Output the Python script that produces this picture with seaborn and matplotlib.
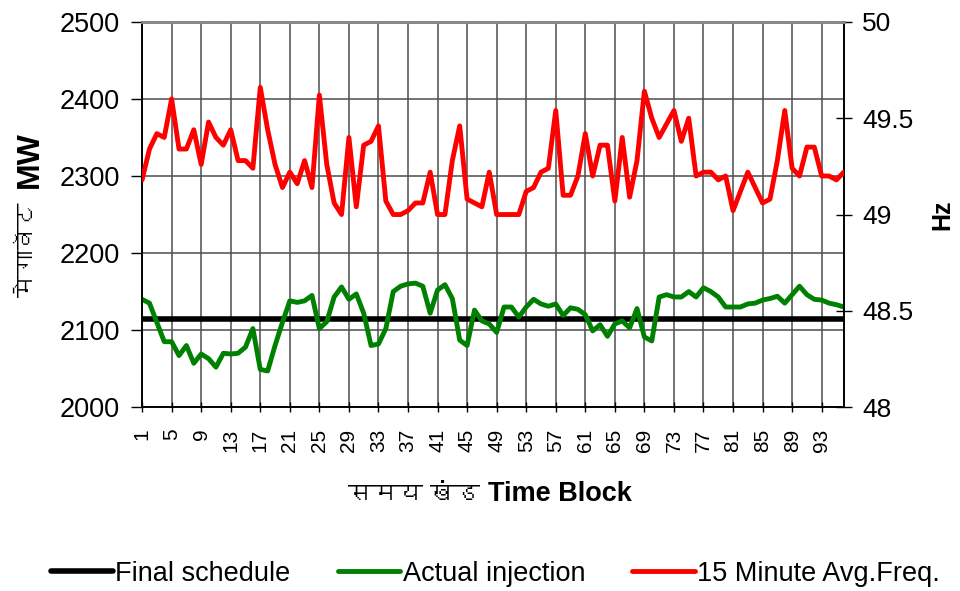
import matplotlib
matplotlib.use('Agg')
import matplotlib.pyplot as plt
from matplotlib import font_manager
from matplotlib.ft2font import FT2Font
import seaborn as sns
import pandas as pd

# time blocks (15 min) of the day
blocks = list(range(1, 97))

final_schedule = [2115] * 96

actual_injection = [
    2140, 2135, 2110, 2085, 2085, 2067, 2080, 2057, 2069, 2063,
    2052, 2070, 2069, 2070, 2078, 2102, 2049, 2047, 2080, 2110,
    2138, 2136, 2138, 2145, 2102, 2111, 2143, 2156, 2140, 2147,
    2122, 2080, 2082, 2102, 2150, 2157, 2160, 2161, 2157, 2122,
    2152, 2159, 2141, 2087, 2080, 2126, 2112, 2108, 2097, 2130,
    2130, 2117, 2130, 2140, 2134, 2131, 2134, 2119, 2129, 2127,
    2120, 2099, 2107, 2092, 2108, 2112, 2103, 2128, 2091, 2086,
    2143, 2146, 2143, 2143, 2150, 2143, 2155, 2150, 2143, 2130,
    2130, 2130, 2134, 2135, 2139, 2141, 2144, 2135, 2146, 2157,
    2146, 2140, 2139, 2135, 2133, 2130,
]

avg_freq = [
    49.18, 49.34, 49.42, 49.40, 49.60, 49.34, 49.34, 49.44, 49.26, 49.48,
    49.40, 49.36, 49.44, 49.28, 49.28, 49.24, 49.66, 49.44, 49.26, 49.14,
    49.22, 49.16, 49.28, 49.14, 49.62, 49.26, 49.06, 49.00, 49.40, 49.04,
    49.36, 49.38, 49.46, 49.07, 49.00, 49.00, 49.02, 49.06, 49.06, 49.22,
    49.00, 49.00, 49.28, 49.46, 49.08, 49.06, 49.04, 49.22, 49.00, 49.00,
    49.00, 49.00, 49.12, 49.14, 49.22, 49.24, 49.54, 49.10, 49.10, 49.20,
    49.42, 49.20, 49.36, 49.36, 49.07, 49.40, 49.09, 49.28, 49.64, 49.50,
    49.40, 49.47, 49.54, 49.38, 49.50, 49.20, 49.22, 49.22, 49.18, 49.20,
    49.02, 49.12, 49.22, 49.14, 49.06, 49.08, 49.28, 49.54, 49.24, 49.20,
    49.35, 49.35, 49.20, 49.20, 49.18, 49.22,
]

xtick_blocks = list(range(1, 94, 4))
mw_ticks = [2000, 2100, 2200, 2300, 2400, 2500]
hz_ticks = [48, 48.5, 49, 49.5, 50]
hz_ticklabels = ['48', '48.5', '49', '49.5', '50']

sns.set_theme(style='white')


def find_font(ch):
    # look for any installed font that has this glyph
    for f in font_manager.fontManager.ttflist:
        try:
            if ord(ch) in FT2Font(f.fname).get_charmap():
                return f.name
        except Exception:
            pass
    return None


deva = find_font('\u0938')
families = ['Liberation Sans', 'DejaVu Sans']
if deva:
    families.append(deva)
plt.rcParams['font.family'] = families
for key in ('text.color', 'axes.labelcolor', 'xtick.color', 'ytick.color'):
    plt.rcParams[key] = 'black'

df = pd.DataFrame({'block': blocks, 'schedule': final_schedule,
                   'actual': actual_injection, 'freq': avg_freq})

fig = plt.figure(figsize=(9.6, 5.91), dpi=100)
ax = fig.add_axes([0.148, 0.311, 0.731, 0.652])

sns.lineplot(data=df, x='block', y='schedule', ax=ax, color='black', linewidth=4.0,
             label='Final schedule', legend=False, zorder=3)
sns.lineplot(data=df, x='block', y='actual', ax=ax, color='#008000', linewidth=3.5,
             label='Actual injection', legend=False, zorder=4)

ax2 = ax.twinx()
sns.lineplot(data=df, x='block', y='freq', ax=ax2, color='#ff0000', linewidth=3.5,
             label='15 Minute Avg.Freq.', legend=False, zorder=4)

ax.set_xlim(1, 96)
ax.set_ylim(2000, 2500)
ax2.set_ylim(48, 50)

ax.set_xticks(xtick_blocks)
ax.set_xticklabels([str(b) for b in xtick_blocks], rotation=90, fontsize=15)
ax.set_yticks(mw_ticks)
ax.set_yticklabels([str(v) for v in mw_ticks], fontsize=19.5)
ax2.set_yticks(hz_ticks)
ax2.set_yticklabels(hz_ticklabels, fontsize=19)

ax.grid(True, color='#4d4d4d', linewidth=1.1)
ax.set_axisbelow(True)
ax2.grid(False)

ax.tick_params(axis='x', direction='inout', length=7, width=1, pad=12, bottom=True)
ax.tick_params(axis='y', direction='out', length=8, width=1, pad=8, left=True)
ax2.tick_params(axis='y', direction='inout', length=12, width=1, pad=7, right=True)

for a in (ax, ax2):
    for side in ('left', 'right', 'bottom'):
        a.spines[side].set_color('black')
        a.spines[side].set_linewidth(1.2)
    a.spines['top'].set_color('#888888')
    a.spines['top'].set_linewidth(2)

ax.set_xlabel('')
ax.set_ylabel('')
ax2.set_ylabel('')

# axis titles (hindi + english parts)
fig.text(0.029, 0.578, 'मेगावॅट', rotation=90, ha='center', va='center',
         fontsize=17, fontweight='bold')
fig.text(0.031, 0.730, 'MW', rotation=90, ha='center', va='center',
         fontsize=23, fontweight='bold')
fig.text(0.982, 0.637, 'Hz', rotation=90, ha='center', va='center',
         fontsize=18, fontweight='bold')
fig.text(0.500, 0.162, 'समय खंड', ha='right', va='center',
         fontsize=18, fontweight='bold')
fig.text(0.508, 0.164, 'Time Block', ha='left', va='center',
         fontsize=19.5, fontweight='bold')

h1, l1 = ax.get_legend_handles_labels()
h2, l2 = ax2.get_legend_handles_labels()
fig.legend(h1 + h2, l1 + l2, loc='center', bbox_to_anchor=(0.516, 0.029), ncol=3,
           frameon=False, fontsize=19.5, handlelength=2.3, handletextpad=0.08,
           columnspacing=1.75)

fig.savefig('out.png', dpi=100)
